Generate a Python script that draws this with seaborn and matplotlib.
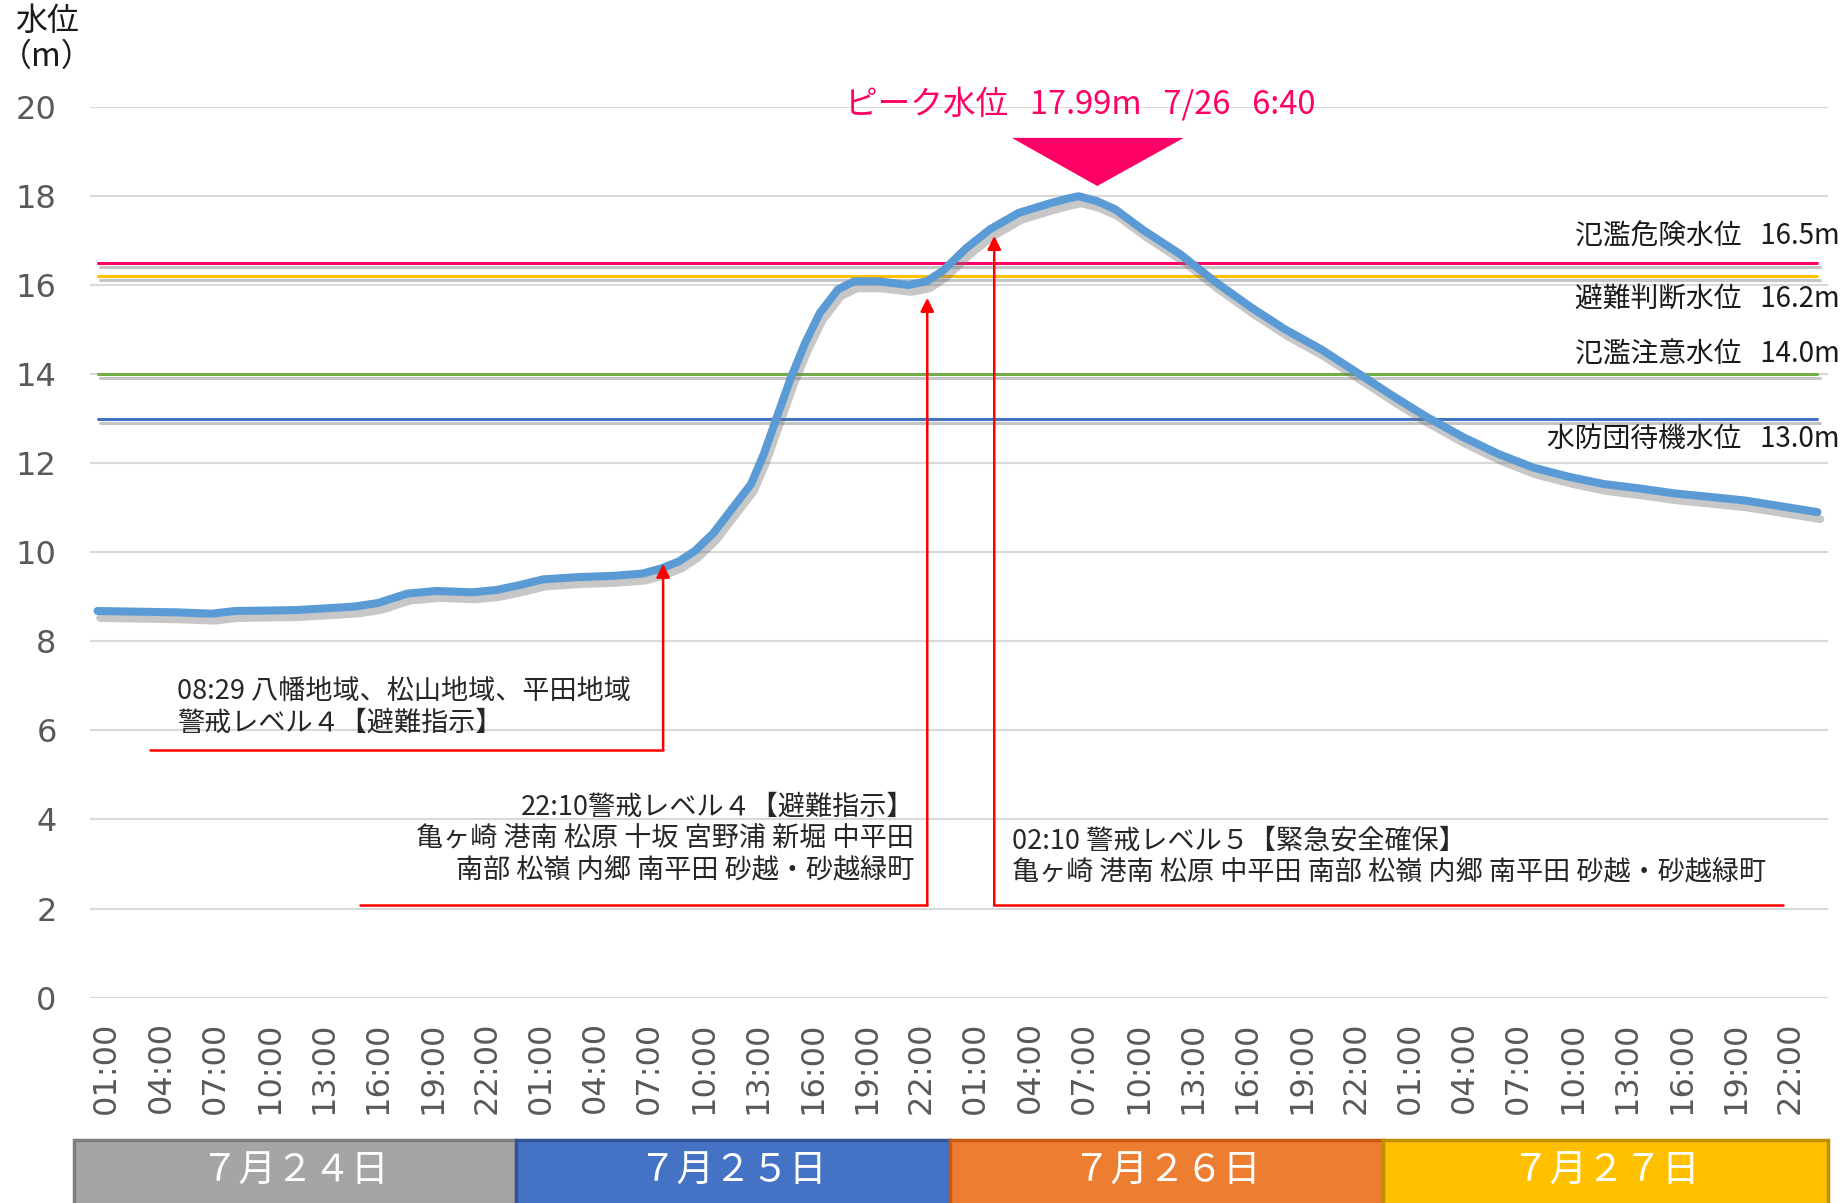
import seaborn as sns
import matplotlib.pyplot as plt
import matplotlib.patheffects as pe
import matplotlib.transforms as mtransforms
from matplotlib.patches import Rectangle, Polygon

# hours counted from 7/24 00:00, water level in m
HOURS = [0.5, 4.9, 6.8, 8.1, 11.4, 12.7, 14.7, 16.0, 17.6, 19.2, 21.2, 22.5, 23.8,
         25.1, 27.0, 29.0, 30.6, 31.6, 32.6, 33.5, 34.5, 35.5, 36.6, 37.3, 38.1,
         38.8, 39.6, 40.4, 41.4, 42.3, 43.6, 45.3, 46.3, 47.2, 48.5, 49.8, 51.4,
         53.1, 54.1, 54.7, 55.7, 56.7, 58.3, 60.3, 62.2, 64.2, 66.1, 68.1, 70.0,
         72.0, 73.9, 75.9, 77.9, 79.8, 81.8, 83.7, 85.7, 87.6, 89.6, 91.5, 93.5, 95.5]
LEVELS = [8.68, 8.65, 8.62, 8.68, 8.70, 8.73, 8.78, 8.86, 9.07, 9.13, 9.10, 9.15, 9.26,
          9.39, 9.44, 9.47, 9.52, 9.63, 9.79, 10.03, 10.42, 10.95, 11.53, 12.20, 13.12,
          13.92, 14.71, 15.37, 15.90, 16.08, 16.08, 16.00, 16.08, 16.32, 16.83, 17.25, 17.62,
          17.83, 17.94, 17.99, 17.88, 17.70, 17.22, 16.69, 16.08, 15.50, 15.00, 14.55, 14.05,
          13.52, 13.04, 12.59, 12.20, 11.90, 11.69, 11.53, 11.43, 11.32, 11.24, 11.16, 11.03, 10.90]

TICK_HOURS = list(range(1, 96, 3))
TICK_LABELS = ["01:00", "04:00", "07:00", "10:00", "13:00", "16:00", "19:00", "22:00"] * 4

THRESHOLD_NAMES = ["氾濫危険水位   16.5m", "避難判断水位   16.2m", "氾濫注意水位   14.0m", "水防団待機水位   13.0m"]
THRESHOLD_LEVELS = [16.5, 16.2, 14.0, 13.0]
THRESHOLD_COLORS = ["#FF0066", "#FFC000", "#70AD47", "#4472C4"]
THRESHOLD_LABEL_OFFSET = [0.58, -0.52, 0.45, -0.45]

DAY_LABELS = ["７月２４日", "７月２５日", "７月２６日", "７月２７日"]
DAY_COLORS = ["#A5A5A5", "#4472C4", "#ED7D31", "#FFC000"]
DAY_EDGES = ["#7F7F7F", "#2F5597", "#C55A11", "#BF9000"]
DAY_BOUNDS = [-0.8, 23.6, 47.6, 71.5, 96.1]

PEAK_TEXT = "ピーク水位   17.99m   7/26   6:40"

# (label, x of arrow, arrow tip level, base level, far end of base line)
ALERTS = [
    ("08:29 八幡地域、松山地域、平田地域\n警戒レベル４【避難指示】", 31.74, 9.74, 5.56, 3.4),
    ("22:10警戒レベル４【避難指示】\n亀ヶ崎 港南 松原 十坂 宮野浦 新堀 中平田\n南部 松嶺 内郷 南平田 砂越・砂越緑町", 46.33, 15.71, 2.07, 15.0),
    ("02:10 警戒レベル５【緊急安全確保】\n亀ヶ崎 港南 松原 中平田 南部 松嶺 内郷 南平田 砂越・砂越緑町", 50.03, 17.10, 2.07, 93.6),
]

sns.set_theme(style="white")
plt.rcParams['font.family'] = ['Noto Sans CJK JP', 'DejaVu Sans']

fig = plt.figure(figsize=(18.49, 12.03), dpi=100)
ax = fig.add_axes([0.04867, 0.17066, 0.93997, 0.74065])

shadow = [pe.SimpleLineShadow(offset=(1.5, -3), shadow_color='0.5', alpha=0.45), pe.Normal()]

# threshold lines
for name, lvl, col, off in zip(THRESHOLD_NAMES, THRESHOLD_LEVELS, THRESHOLD_COLORS, THRESHOLD_LABEL_OFFSET):
    ax.plot([HOURS[0], HOURS[-1]], [lvl, lvl], color=col, lw=2.2, path_effects=shadow, zorder=3)
    ax.text(1.0069, lvl + off, name, transform=mtransforms.blended_transform_factory(ax.transAxes, ax.transData),
            ha='right', va='center', fontsize=20, color='#1a1a1a', clip_on=False)

sns.lineplot(x=HOURS, y=LEVELS, ax=ax, color="#5B9BD5", lw=5.8, solid_capstyle='round',
             path_effects=[pe.SimpleLineShadow(offset=(2, -5), shadow_color='0.45', alpha=0.4), pe.Normal()],
             zorder=4)

ax.set_xlim(1 / 12, 96 + 1 / 12)
ax.set_ylim(0, 20)
ax.set_yticks(range(0, 21, 2))
ax.set_xticks(TICK_HOURS)
ax.set_xticklabels(TICK_LABELS, rotation=90, fontfamily='DejaVu Sans')
ax.tick_params(axis='y', labelsize=23, labelcolor='#595959', pad=24, length=0)
ax.tick_params(axis='x', labelsize=23, labelcolor='#595959', pad=17, length=0)
for lab in ax.get_yticklabels():
    lab.set_fontfamily('DejaVu Sans')
ax.grid(axis='y', color='#D9D9D9', lw=1.5)
ax.grid(axis='x', visible=False)
for s in ax.spines.values():
    s.set_visible(False)
ax.set_xlabel("")
ax.set_ylabel("")

fig.text(0.0255, 0.9825, "水位", ha='center', va='center', fontsize=23, color='#1a1a1a')
fig.text(0.0255, 0.9526, "（m）", ha='center', va='center', fontsize=23, color='#1a1a1a')

# peak marker
ax.text(54.8, 20.06, PEAK_TEXT, ha='center', va='center', fontsize=23.5, color='#FF0066')
ax.add_patch(Polygon([[51.0, 19.30], [60.5, 19.30], [55.72, 18.22]], closed=True,
                     facecolor='#FF0066', edgecolor='none', clip_on=False, zorder=5))

# alert arrows
for i, (txt, xa, tip, base, xend) in enumerate(ALERTS):
    ax.plot([xend, xa], [base, base], color='#FF0000', lw=1.8, zorder=5)
    ax.annotate("", xy=(xa, tip), xytext=(xa, base),
                arrowprops=dict(arrowstyle='-|>', color='#FF0000', lw=1.8, mutation_scale=20,
                                shrinkA=0, shrinkB=0), zorder=5)
ax.text(4.9, 6.51, ALERTS[0][0], ha='left', va='center', fontsize=19.5, color='#262626', linespacing=1.22)
ax.text(45.6, 3.57, ALERTS[1][0], ha='right', va='center', fontsize=19.5, color='#262626',
        linespacing=1.22, multialignment='right')
ax.text(51.0, 3.17, ALERTS[2][0], ha='left', va='center', fontsize=19.5, color='#262626', linespacing=1.22)

# date band at the bottom
band = mtransforms.blended_transform_factory(ax.transData, fig.transFigure)
for i, lab in enumerate(DAY_LABELS):
    x0, x1 = DAY_BOUNDS[i], DAY_BOUNDS[i + 1]
    ax.add_patch(Rectangle((x0, -0.01), x1 - x0, 0.0624, transform=band, facecolor=DAY_COLORS[i],
                           edgecolor=DAY_EDGES[i], lw=2.5, clip_on=False))
    ax.text((x0 + x1) / 2, 0.0266, lab, transform=band, ha='center', va='center',
            fontsize=27, color='white', clip_on=False)

fig.savefig("out.png", dpi=100)
